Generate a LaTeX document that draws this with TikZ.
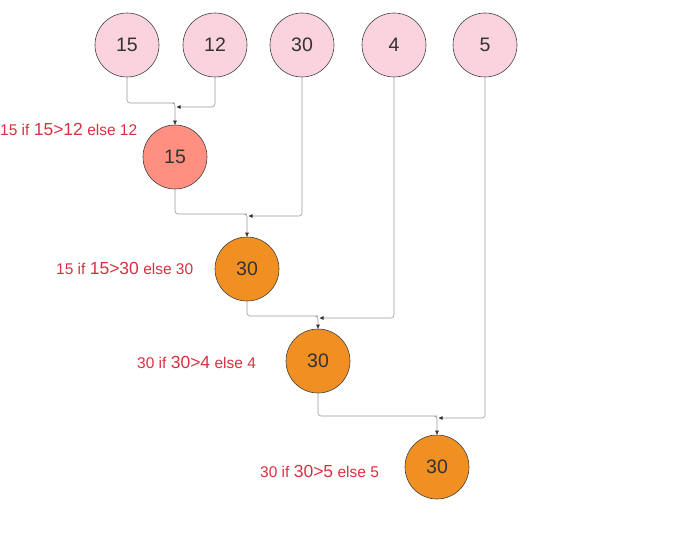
\documentclass[tikz,border=0pt]{standalone}
\usepackage{fontspec}
\setmainfont{Liberation Sans}
\usetikzlibrary{arrows.meta}
\definecolor{pinkf}{HTML}{FAD3DE}
\definecolor{salmon}{HTML}{FF8F80}
\definecolor{orangef}{HTML}{F08F22}
\definecolor{lab}{HTML}{D9303F}
\definecolor{conn}{HTML}{9A9A9A}
\definecolor{ntext}{HTML}{333333}
\tikzset{
  circ/.style={circle,draw=black!75,line width=0.6pt,minimum size=64pt,inner sep=0pt,text=ntext,font=\fontsize{19.5}{22}\selectfont},
  topn/.style={circ,fill=pinkf},
  redn/.style={circ,fill=salmon},
  orn/.style={circ,fill=orangef},
  lbl/.style={text=lab,font=\fontsize{15.5}{18}\selectfont,inner sep=0pt},
  line/.style={draw=conn,line width=0.6pt,rounded corners=3pt},
  arr/.style={line,-{Triangle[length=4pt,width=3.5pt,fill=black!80,color=black!80]}},
}
\newcommand{\bigpart}[1]{{\fontsize{17.5}{20}\selectfont #1}}
\begin{document}
\begin{tikzpicture}[x=1pt,y=-1pt]
\useasboundingbox (0,0) rectangle (700,540);
\node[topn] (t15) at (127,45) {15};
\node[topn] (t12) at (215,45) {12};
\node[topn] (t30) at (302,45) {30};
\node[topn] (t4)  at (394,45) {4};
\node[topn] (t5)  at (485,45) {5};
\node[redn] (r15) at (175,157) {15};
\node[orn] (o1) at (247,269) {30};
\node[orn] (o2) at (318,361) {30};
\node[orn] (o3) at (437,467) {30};
\node[lbl,anchor=west] (l1) at (0,129) {15 if \bigpart{15>12} else 12};
\node[lbl,anchor=west] (l2) at (56,268) {15 if \bigpart{15>30} else 30};
\node[lbl,anchor=west] (l3) at (137,362) {30 if \bigpart{30>4} else 4};
\node[lbl,anchor=west] (l4) at (260,471) {30 if \bigpart{30>5} else 5};
% junctions
\coordinate (j1) at (172,103);
\coordinate (a1) at (176.5,107);
\coordinate (j2) at (244,214);
\coordinate (a2) at (248.5,216);
\coordinate (j3) at (315,316);
\coordinate (a3) at (319.5,318);
\coordinate (j4) at (434,416);
\coordinate (a4) at (438.5,418);
\draw[arr] (t15.south) |- (j1) -| (r15.north);
\draw[arr] (t12.south) |- (a1);
\draw[arr] (r15.south) |- (j2) -| (o1.north);
\draw[arr] (t30.south) |- (a2);
\draw[arr] (o1.south) |- (j3) -| (o2.north);
\draw[arr] (t4.south) |- (a3);
\draw[arr] (o2.south) |- (j4) -| (o3.north);
\draw[arr] (t5.south) |- (a4);
\end{tikzpicture}
\end{document}
